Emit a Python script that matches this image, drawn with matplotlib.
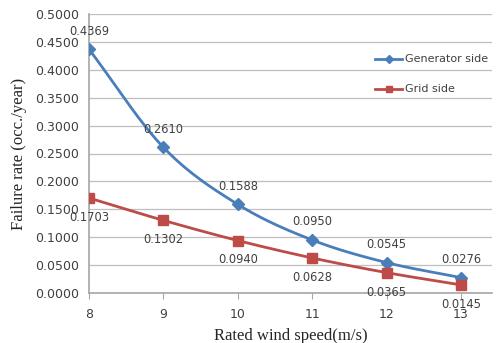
import numpy as np
import matplotlib
matplotlib.use("Agg")
import matplotlib.pyplot as plt
from matplotlib.ticker import FormatStrFormatter

speeds = [8, 9, 10, 11, 12, 13]
generator = [0.4369, 0.2610, 0.1588, 0.0950, 0.0545, 0.0276]
grid = [0.1703, 0.1302, 0.0940, 0.0628, 0.0365, 0.0145]
y_ticks = [0.0, 0.05, 0.1, 0.15, 0.2, 0.25, 0.3, 0.35, 0.4, 0.45, 0.5]

BLUE = "#4A7EBB"
RED = "#BE4B48"


def smooth(xs, ys, n=30):
    # Catmull-Rom spline through data points (Excel-style smoothed line)
    xs = np.asarray(xs, float)
    ys = np.asarray(ys, float)
    px = np.concatenate([[2 * xs[0] - xs[1]], xs, [2 * xs[-1] - xs[-2]]])
    py = np.concatenate([[2 * ys[0] - ys[1]], ys, [2 * ys[-1] - ys[-2]]])
    ox, oy = [], []
    for i in range(1, len(px) - 2):
        t = np.linspace(0, 1, n, endpoint=False)
        for arr, out in ((px, ox), (py, oy)):
            p0, p1, p2, p3 = arr[i - 1], arr[i], arr[i + 1], arr[i + 2]
            out.extend(0.5 * ((2 * p1) + (-p0 + p2) * t
                              + (2 * p0 - 5 * p1 + 4 * p2 - p3) * t ** 2
                              + (-p0 + 3 * p1 - 3 * p2 + p3) * t ** 3))
    ox.append(xs[-1]); oy.append(ys[-1])
    return np.array(ox), np.array(oy)


fig = plt.figure(figsize=(4.96, 3.43), dpi=100)
ax = fig.add_axes([89 / 496, 1 - 293 / 343, (492 - 89) / 496, (293 - 14) / 343])

gx, gy = smooth(speeds, generator)
rx, ry = smooth(speeds, grid)
ax.plot(gx, gy, color=BLUE, lw=2, zorder=3)
ax.plot(speeds, generator, ls="none", marker="D", ms=6, color=BLUE, zorder=4)
ax.plot(rx, ry, color=RED, lw=2, zorder=3)
ax.plot(speeds, grid, ls="none", marker="s", ms=7, color=RED, zorder=4)

for x, y in zip(speeds, generator):
    ax.annotate(f"{y:.4f}", (x, y), xytext=(0, 13), textcoords="offset points",
                ha="center", va="center", fontsize=8.3, color="#404040", zorder=5)
for x, y in zip(speeds, grid):
    ax.annotate(f"{y:.4f}", (x, y), xytext=(0, -14), textcoords="offset points",
                ha="center", va="center", fontsize=8.3, color="#404040", zorder=5)

ax.set_xlim(8, 8 + 5 * (492 - 89) / (461 - 89))
ax.set_ylim(0, 0.5)
ax.set_xticks(speeds)
ax.set_yticks(y_ticks)
ax.yaxis.set_major_formatter(FormatStrFormatter("%.4f"))
ax.grid(axis="y", color="#BFBFBF", lw=0.9)
ax.set_axisbelow(True)
for s in ("top", "right"):
    ax.spines[s].set_visible(False)
for s in ("left", "bottom"):
    ax.spines[s].set_color("#A6A6A6")
    ax.spines[s].set_linewidth(1.2)
ax.tick_params(axis="y", length=0, labelsize=9, labelcolor="#404040", pad=7)
ax.tick_params(axis="x", length=4, color="#A6A6A6", labelsize=9,
               labelcolor="#404040", pad=7)

ax.set_xlabel("Rated wind speed(m/s)", family="Liberation Serif", fontsize=12,
              color="#262626", labelpad=5)
ax.set_ylabel("Failure rate (occ./year)", family="Liberation Serif", fontsize=12,
              color="#262626", labelpad=6)

# legend drawn manually in figure pixels
def fx(p):
    return p / 496
def fy(p):
    return 1 - p / 343

for ypix, col, mk, ms, lab in ((59, BLUE, "D", 4, "Generator side"),
                               (89, RED, "s", 5, "Grid side")):
    fig.lines.append(plt.Line2D([fx(375), fx(402)], [fy(ypix), fy(ypix)],
                                color=col, lw=2, transform=fig.transFigure))
    fig.lines.append(plt.Line2D([fx(388.5)], [fy(ypix)], color=col, marker=mk,
                                ms=ms, transform=fig.transFigure))
    fig.text(fx(405), fy(ypix), lab, fontsize=8, color="#404040", va="center", ha="left")

fig.savefig("out.png", dpi=100)
